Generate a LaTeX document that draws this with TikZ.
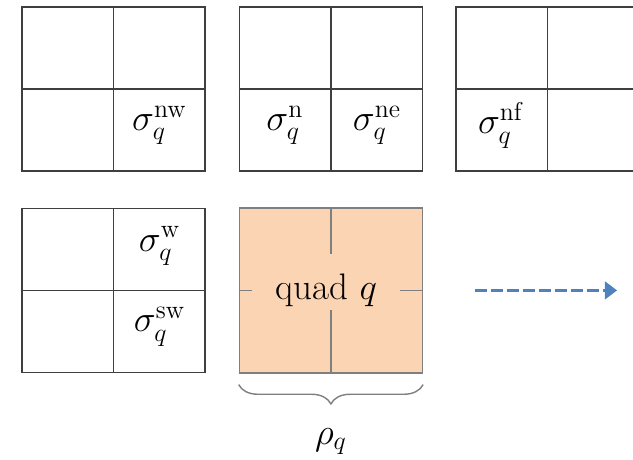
\documentclass[tikz,border=0pt]{standalone}
\usepackage{fix-cm}
\usepackage{amsmath}
\usepackage{tikz}
\usetikzlibrary{arrows.meta,positioning,calc,decorations.pathreplacing}
\definecolor{gridgray}{HTML}{3F3F3F}
\definecolor{quadgray}{HTML}{7F7F7F}
\definecolor{peach}{HTML}{FBD4B4}
\definecolor{arrowblue}{HTML}{4F81BD}

\begin{document}
\begin{tikzpicture}[
  block/.style={draw=gridgray, line width=0.8pt, minimum width=3.66cm, minimum height=3.28cm, inner sep=0pt},
  quadbox/.style={draw=quadgray, line width=0.8pt, fill=peach, minimum width=3.66cm, minimum height=3.3cm, inner sep=0pt},
  split/.style={draw=gridgray, line width=0.8pt},
  qsplit/.style={draw=quadgray, line width=0.8pt},
  lbl/.style={font=\fontsize{21}{25}\selectfont, inner sep=1pt},
  arr/.style={arrowblue, line width=1.7pt, dash pattern=on 6.8pt off 2.3pt, -{Triangle[length=7pt,width=10pt]}}
]
\useasboundingbox (0,0) rectangle (12.66,9.2);

% top row
\node[block] (nwblk) at (2.27,7.42) {};
\node[block, right=0.66cm of nwblk] (nblk) {};
\node[block, right=0.64cm of nblk] (nfblk) {};
% bottom row
\node[block, below=0.72cm of nwblk] (wblk) {};
\node[quadbox, right=0.66cm of wblk] (quad) {};

% cell lines
\foreach \b in {nwblk,nblk,nfblk,wblk} {
  \draw[split] (\b.north) -- (\b.south);
  \draw[split] (\b.west) -- (\b.east);
}
\draw[qsplit] (quad.north) -- ([yshift=0.72cm]quad.center);
\draw[qsplit] (quad.south) -- ([yshift=-0.40cm]quad.center);
\draw[qsplit] (quad.west) -- ([xshift=-1.58cm]quad.center);
\draw[qsplit] (quad.east) -- ([xshift=1.38cm]quad.center);

% neighbour labels
\node[lbl] (snw) at ($(nwblk.center)!0.5!(nwblk.south east)+(0,0.1)$) {$\sigma_q^{\mathrm{nw}}$};
\node[lbl] (sn) at ($(nblk.center)!0.5!(nblk.south west)+(0,0.1)$) {$\sigma_q^{\mathrm{n}}$};
\node[lbl] (sne) at ($(nblk.center)!0.5!(nblk.south east)+(0,0.1)$) {$\sigma_q^{\mathrm{ne}}$};
\node[lbl] (snf) at ($(nfblk.center)!0.5!(nfblk.south west)+(0,0.1)$) {$\sigma_q^{\mathrm{nf}}$};
\node[lbl] (sw) at ($(wblk.center)!0.5!(wblk.north east)+(0,0.06)$) {$\sigma_q^{\mathrm{w}}$};
\node[lbl] (ssw) at ($(wblk.center)!0.5!(wblk.south east)+(0,0.1)$) {$\sigma_q^{\mathrm{sw}}$};
\node[lbl] (qlbl) at ([xshift=-0.09cm]quad.center) {quad $q$};

% brace and scan arrow
\draw[quadgray, line width=0.8pt, decorate, decoration={brace, mirror, amplitude=11pt}]
  ([yshift=-0.22cm]quad.south west) -- ([yshift=-0.22cm]quad.south east);
\node[lbl] (rho) at ([yshift=-1.36cm]quad.south) {$\rho_q$};

\coordinate (arrs) at ([xshift=1.04cm]quad.east);
\coordinate[right=2.84cm of arrs] (arre);
\draw[arr] (arrs) -- (arre);
\end{tikzpicture}
\end{document}
